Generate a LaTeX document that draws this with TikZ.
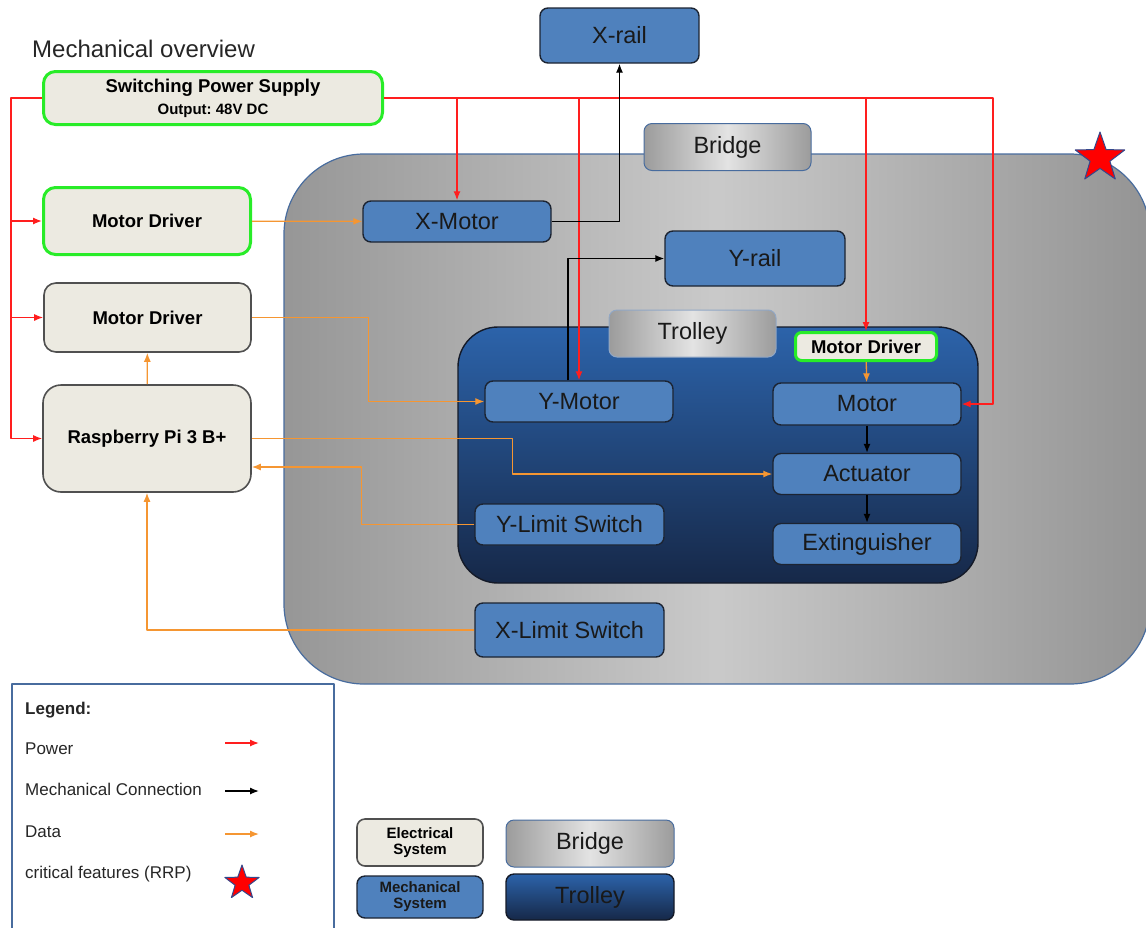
\documentclass[tikz,border=0pt]{standalone}
\usepackage{fontspec}
\setmainfont{Liberation Sans}
\usepackage{tikz}
\usetikzlibrary{arrows.meta,shapes.geometric}
\frenchspacing

\definecolor{elecfill}{RGB}{236,234,225}
\definecolor{elecline}{RGB}{80,80,80}
\definecolor{limegreen}{RGB}{40,236,40}
\definecolor{mechfill}{RGB}{79,129,189}
\definecolor{mechline}{RGB}{28,36,50}
\definecolor{bridgeline}{RGB}{72,108,158}
\definecolor{trolleytop}{RGB}{44,99,170}
\definecolor{trolleybot}{RGB}{22,40,72}
\definecolor{trolleyline}{RGB}{20,26,40}
\definecolor{powerred}{RGB}{255,30,30}
\definecolor{dataorange}{RGB}{245,150,50}
\definecolor{starblue}{RGB}{52,72,140}

\begin{document}
\begin{tikzpicture}[x=1pt,y=-1pt,>={Latex[length=9pt,width=7pt]},line join=round,node distance=70pt]
  \tikzstyle{elec}=[rectangle,rounded corners=12pt,draw=elecline,line width=1.6pt,fill=elecfill,text=black,
                    font=\fontsize{18.5}{21}\selectfont\bfseries,inner sep=0pt,align=center]
  \tikzstyle{hot}=[elec,draw=limegreen,line width=3pt]
  \tikzstyle{mech}=[rectangle,rounded corners=8pt,draw=mechline,line width=1.4pt,fill=mechfill,text=black!90,
                    font=\fontsize{23.5}{27}\selectfont,inner sep=0pt,minimum width=188pt,minimum height=41pt,align=center]
  \tikzstyle{tag}=[rectangle,rounded corners=8pt,draw=bridgeline,line width=1pt,left color=gray!78,right color=gray!78,
                   middle color=gray!22,text=black!90,font=\fontsize{23.5}{27}\selectfont,minimum width=167pt,minimum height=47pt]
  \tikzstyle{power}=[->,draw=powerred,line width=1.3pt]
  \tikzstyle{mechlink}=[->,draw=black,line width=1.3pt]
  \tikzstyle{data}=[->,draw=dataorange,line width=1.3pt]
  \tikzstyle{crit}=[star,star points=5,star point ratio=2.5,fill=red,draw=starblue,line width=1pt,inner sep=0pt]
  \tikzstyle{keytext}=[anchor=base west,inner sep=0pt,text=black!85,font=\fontsize{17}{20}\selectfont]

  \useasboundingbox (0,0) rectangle (1146,927);
  \clip (0,0) rectangle (1146,927);

  % bridge and trolley areas
  \path[draw=bridgeline,line width=1.2pt,rounded corners=80pt,left color=gray!82,right color=gray!84,middle color=gray!42]
    (284,154) rectangle (1150,684);
  \path[draw=trolleyline,line width=1.4pt,rounded corners=40pt,top color=trolleytop,bottom color=trolleybot]
    (458,327) rectangle (978,583);

  \node[anchor=base west,inner sep=0pt,text=black!85,font=\fontsize{24}{28}\selectfont] (title) at (32,57) {Mechanical overview};

  % electrical side
  \node[hot,minimum width=339pt,minimum height=53pt] (psu) at (213,98)
       {Switching Power Supply\\[1pt]{\fontsize{15}{17}\selectfont Output: 48V DC}};
  \node[hot,minimum width=207pt,minimum height=67pt] (drvx) at (147,221) {Motor Driver};
  \node[elec,minimum width=207pt,minimum height=69pt] (drvy) at (147.5,317.5) {Motor Driver};
  \node[elec,rounded corners=18pt,minimum width=208pt,minimum height=107pt] (rpi) at (147,438.5) {Raspberry Pi 3 B+};

  % mechanical side
  \node[mech,minimum width=159pt,minimum height=55pt] (xrail) at (619.5,35.5) {X-rail};
  \node[tag] (bridgetag) at (727.5,147) {Bridge};
  \node[mech] (xmotor) at (457,221.5) {X-Motor};
  \node[mech,minimum width=180pt,minimum height=55pt] (yrail) at (755,258.5) {Y-rail};
  \node[tag,draw=bridgeline!60] (trolleytag) at (692.5,333.5) {Trolley};
  \node[hot,rounded corners=6pt,minimum width=141pt,minimum height=28pt] (drvm) at (866,346.5) {Motor Driver};
  \node[mech] (ymotor) at (579,401.5) {Y-Motor};
  \node[mech,minimum height=42pt] (motor) at (867,404) {Motor};
  \node[mech] (act) [below of=motor] {Actuator};
  \node[mech] (ext) [below of=act] {Extinguisher};
  \node[mech,minimum width=189pt] (ylim) at (569.5,524.5) {Y-Limit Switch};
  \node[mech,minimum width=189pt,minimum height=54pt] (xlim) at (569.5,630) {X-Limit Switch};
  \node[crit,minimum size=52pt] (crit) at (1100,158) {};

  % power
  \draw[power] (psu.west) -- ++(-31,0) coordinate (busl) |- (rpi.west);
  \draw[power] (busl |- drvx.west) -- (drvx.west);
  \draw[power] (busl |- drvy.west) -- (drvy.west);
  \draw[power] (psu.east) -- ++(609,0) coordinate (busr) |- (motor.east);
  \draw[power] (xmotor.north |- psu.east) -- (xmotor.north);
  \draw[power] (ymotor.north |- psu.east) -- (ymotor.north);
  \draw[power] (drvm.north |- psu.east) -- (drvm.north);

  % mechanical
  \draw[mechlink] (xmotor.east) -| (xrail.south);
  \draw[mechlink] ([xshift=-11pt]ymotor.north) |- (yrail.west);
  \draw[mechlink] (motor) -- (act);
  \draw[mechlink] (act) -- (ext);

  % data
  \draw[data] (drvx) -- (xmotor);
  \draw[data] (drvy.east) -- ++(117,0) |- (ymotor.west);
  \draw[data] (rpi) -- (drvy);
  \draw[data] (rpi.east) -- ++(261,0) |- (act.west);
  \draw[data] (ylim.west) -- ++(-113,0) |- ([yshift=-28.5pt]rpi.east);
  \draw[data] (xlim.west) -| (rpi.south);
  \draw[data] (drvm) -- (motor);

  % legend
  \draw[draw=bridgeline,line width=1.2pt] (12,684) rectangle (334,940);
  \node[keytext,font=\fontsize{17}{20}\selectfont\bfseries] (legend) at (25,714) {Legend:};
  \node[keytext] (keypower) at (25,754) {Power};
  \node[keytext] (keymech) at (25,795) {Mechanical Connection};
  \node[keytext] (keydata) at (25,837) {Data};
  \node[keytext] (keycrit) at (25,878) {critical features (RRP)};
  \coordinate (kp1) at (225,743); \coordinate (kp2) at (259,743);
  \coordinate (km1) at (225,791); \coordinate (km2) at (259,791);
  \coordinate (kd1) at (225,834); \coordinate (kd2) at (259,834);
  \draw[power] (kp1) -- (kp2);
  \draw[mechlink] (km1) -- (km2);
  \draw[data] (kd1) -- (kd2);
  \node[crit,minimum size=36pt] (critkey) at (242,883) {};

  \node[elec,rounded corners=8pt,minimum width=126pt,minimum height=47pt,font=\fontsize{15}{16}\selectfont\bfseries]
       (elecsw) at (420,842.5) {Electrical\\System};
  \node[mech,minimum width=126pt,minimum height=42pt,font=\fontsize{15}{16}\selectfont\bfseries]
       (mechsw) at (420,897) {Mechanical\\System};
  \node[tag,minimum width=168pt] (bridgesw) at (590,843.5) {Bridge};
  \node[rectangle,rounded corners=8pt,draw=trolleyline,line width=1.4pt,top color=trolleytop,bottom color=trolleybot,
        text=black!90,font=\fontsize{23.5}{27}\selectfont,minimum width=168pt,minimum height=46pt] (trolleysw) at (590,897) {Trolley};

\end{tikzpicture}
\end{document}
